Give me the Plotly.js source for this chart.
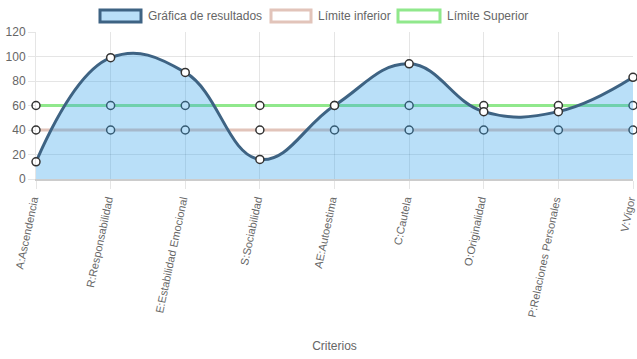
<!DOCTYPE html>
<html>
<head>
<meta charset="utf-8">
<script src="https://cdn.plot.ly/plotly-3.0.1.min.js"></script>
<style>
html,body{margin:0;padding:0;background:#fff;}
#chart{width:637px;height:359px;}
</style>
</head>
<body>
<div id="chart"></div>
<script>
var categories = ["A:Ascendencia","R:Responsabilidad","E:Estabilidad Emocional","S:Sociabilidad","AE:Autoestima","C:Cautela","O:Originalidad","P:Relaciones Personales","V:Vigor"];
var resultados = [14, 99, 87, 16, 60, 94, 55, 55, 83];
var limiteInferior = [40, 40, 40, 40, 40, 40, 40, 40, 40];
var limiteSuperior = [60, 60, 60, 60, 60, 60, 60, 60, 60];
var legendLabels = ["Gráfica de resultados", "Límite inferior", "Límite Superior"];
var yTicks = [0, 20, 40, 60, 80, 100, 120];

var FONT = "Liberation Sans, Arial, Helvetica, sans-serif";
var TXT = "#666";
var blueLine = "rgb(62,99,131)";
var blueFill = "rgba(54,162,235,0.35)";
var pinkLine = "rgb(226,196,186)";
var greenLine = "rgb(144,232,140)";
var markerBase = {size: 8, color: "#fff", line: {color: "#333", width: 1.5}};

var traces = [
  {x: categories, y: limiteInferior, type: "scatter", mode: "lines+markers", name: legendLabels[1],
   line: {color: pinkLine, width: 3}, marker: markerBase, hoverinfo: "none", cliponaxis: false},
  {x: categories, y: limiteSuperior, type: "scatter", mode: "lines+markers", name: legendLabels[2],
   line: {color: greenLine, width: 3}, marker: markerBase, hoverinfo: "none", cliponaxis: false},
  {x: categories, y: resultados, type: "scatter", mode: "lines+markers", name: legendLabels[0],
   xaxis: "x", yaxis: "y2",
   fill: "tozeroy", fillcolor: blueFill,
   line: {color: blueLine, width: 3, shape: "spline", smoothing: 1.2},
   marker: markerBase, hoverinfo: "none", cliponaxis: false}
];

// manual Chart.js-style legend
var L = 36, R = 4, T = 32, B = 180, W = 637, H = 359;
var pw = W - L - R, ph = H - T - B;
function px(x){ return (x - L) / pw; }
function py(y){ return (H - B - y) / ph; }
var legendItems = [
  {x0: 100, x1: 141, tx: 146, fill: "rgba(54,162,235,0.35)", stroke: blueLine},
  {x0: 271, x1: 311, tx: 316, fill: "rgba(255,255,255,1)", stroke: pinkLine},
  {x0: 398, x1: 440, tx: 445, fill: "rgba(255,255,255,1)", stroke: greenLine}
];
var shapes = [], annotations = [];
legendItems.forEach(function(it, i){
  shapes.push({type: "rect", xref: "paper", yref: "paper",
    x0: px(it.x0), x1: px(it.x1), y0: py(22), y1: py(10),
    fillcolor: it.fill, line: {color: it.stroke, width: 3}, layer: "above"});
  annotations.push({xref: "paper", yref: "paper", x: px(it.tx), y: py(16),
    xanchor: "left", yanchor: "middle", showarrow: false, text: legendLabels[i],
    font: {family: FONT, size: 12, color: TXT}});
});

var layout = {
  width: W, height: H,
  margin: {l: L, r: R, t: T, b: B, pad: 0},
  paper_bgcolor: "#fff", plot_bgcolor: "#fff",
  showlegend: false,
  font: {family: FONT, size: 12, color: TXT},
  xaxis: {
    type: "category", range: [0, 8], fixedrange: true,
    tickangle: -78, ticks: "outside", ticklen: 8, tickcolor: "rgba(0,0,0,0.1)",
    ticklabelshift: -3,
    showgrid: true, gridcolor: "rgba(0,0,0,0.1)", gridwidth: 1,
    showline: true, linecolor: "rgba(0,0,0,0.2)", linewidth: 2,
    tickfont: {family: FONT, size: 11, color: TXT},
    title: {text: "Criterios", font: {family: FONT, size: 12, color: TXT}, standoff: 24},
    automargin: false
  },
  yaxis: {
    range: [0, 120], tickvals: yTicks, fixedrange: true,
    ticks: "outside", ticklen: 7, tickcolor: "rgba(0,0,0,0.1)",
    showgrid: true, gridcolor: "rgba(0,0,0,0.1)", gridwidth: 1,
    zeroline: false, showline: true, linecolor: "rgba(0,0,0,0.1)", linewidth: 1,
    tickfont: {family: FONT, size: 12, color: TXT},
    automargin: false
  },
  yaxis2: {
    range: [0, 120], overlaying: "y", side: "left", fixedrange: true,
    showgrid: false, zeroline: false, showline: false, showticklabels: false, ticks: ""
  },
  shapes: shapes,
  annotations: annotations
};

Plotly.newPlot("chart", traces, layout, {displayModeBar: false, staticPlot: true});
</script>
</body>
</html>
